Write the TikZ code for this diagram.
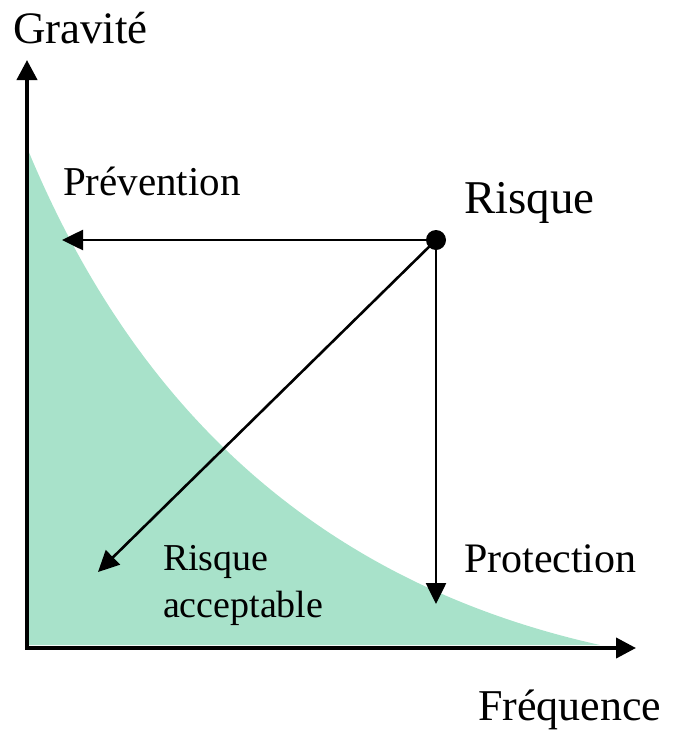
\documentclass[tikz,border=0pt]{standalone}
\usepackage{fontspec}
\setmainfont{Liberation Serif}
\usetikzlibrary{arrows.meta}
\definecolor{accgreen}{RGB}{168,226,202}
\tikzset{
  axis/.style={line width=4pt,-{Triangle[length=20pt,width=20pt]}},
  move/.style={line width=2.6pt,-{Triangle[length=21pt,width=20pt]}},
  lbl/.style={anchor=base west,inner sep=0pt,outer sep=0pt},
}
\begin{document}
\begin{tikzpicture}[x=1pt,y=-1pt]
\useasboundingbox (0,0) rectangle (678,731);
% acceptable-risk area
\fill[accgreen] (28,150) .. controls (140,420) and (330,585) .. (600,645) -- (28,645) -- cycle;
% axes
\coordinate (O) at (27,648);
\coordinate (ytop) at (27,60);
\coordinate (xend) at (636,648);
\draw[axis] (O) -- (ytop);
\draw[axis] ([xshift=-2pt]O) -- (xend);
% risk point and moves
\node[circle,fill=black,inner sep=0pt,minimum size=20pt] (risk) at (436,240) {};
\coordinate (prev) at (62,240);
\coordinate (prot) at (436,604);
\coordinate (acc) at (98,572);
\draw[move] (risk.center) -- (prev);
\draw[move] (risk.center) -- (prot);
\draw[move] (risk.center) -- (acc);
% labels
\node[lbl] (grav) at (13,43) {\fontsize{45}{54}\selectfont Gravité};
\node[lbl] (prevl) at (63,195) {\fontsize{41}{49}\selectfont Prévention};
\node[lbl] (riskl) at (464,213) {\fontsize{47}{56}\selectfont Risque};
\node[lbl] (protl) at (464,572) {\fontsize{42}{50}\selectfont Protection};
\node[lbl] (accl1) at (163,570) {\fontsize{38}{46}\selectfont Risque};
\node[lbl] (accl2) at (163,617) {\fontsize{38}{46}\selectfont acceptable};
\node[lbl] (freq) at (478,720) {\fontsize{44}{53}\selectfont Fréquence};
\end{tikzpicture}
\end{document}
